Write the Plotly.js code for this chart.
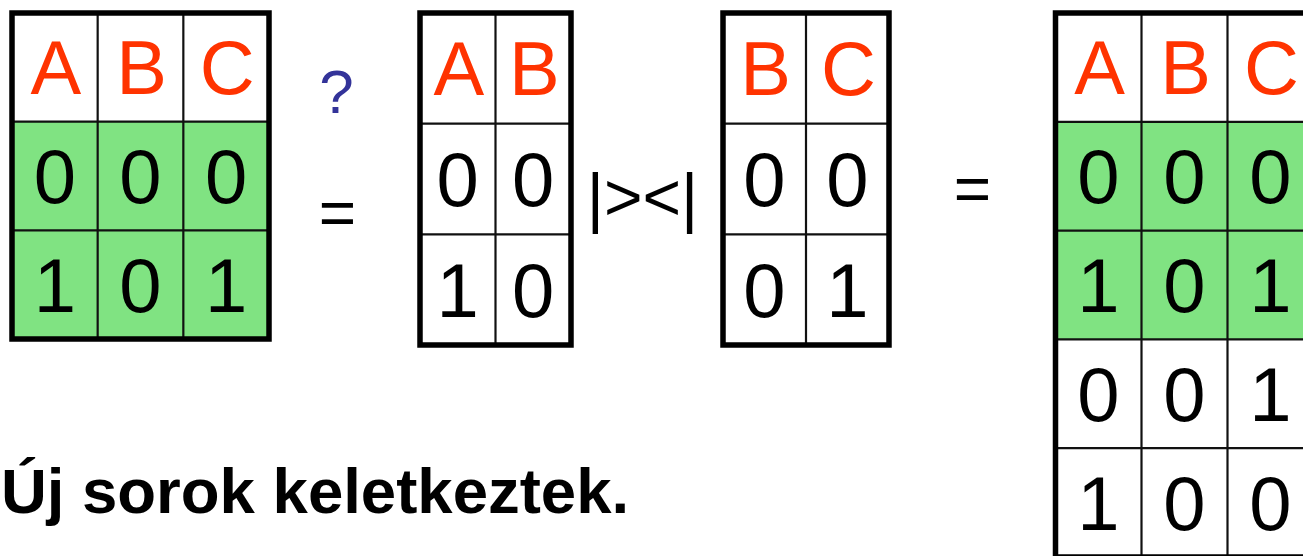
<!DOCTYPE html>
<html>
<head>
<meta charset="utf-8">
<script src="https://cdn.plot.ly/plotly-3.0.1.min.js"></script>
<style>
html,body{margin:0;padding:0;background:#fff;overflow:hidden;}
#chart{width:1303px;height:556px;}
</style>
</head>
<body>
<div id="chart"></div>
<script>
// ---- data ----
const t1Headers = ['A', 'B', 'C'];
const t1Rows = [['0', '0', '0'], ['1', '0', '1']];
const t1Highlight = [true, true];

const t2Headers = ['A', 'B'];
const t2Rows = [['0', '0'], ['1', '0']];
const t2Highlight = [false, false];

const t3Headers = ['B', 'C'];
const t3Rows = [['0', '0'], ['0', '1']];
const t3Highlight = [false, false];

const t4Headers = ['A', 'B', 'C'];
const t4Rows = [['0', '0', '0'], ['1', '0', '1'], ['0', '0', '1'], ['1', '0', '0']];
const t4Highlight = [true, true, false, false];

const operatorLabels = ['?', '=', '|><|', '='];
const captionText = 'Új sorok keletkeztek.';

// ---- layout / style ----
const FONT = 'Liberation Sans, Arial, sans-serif';
const GREEN = 'rgb(128,227,130)';
const RED = '#FF3300';
const BLUE = '#333399';
const TEXT_SHIFT = 6;

const tables = [
  {headers: t1Headers, rows: t1Rows, hl: t1Highlight, left: 12, top: 13, colW: 85.67, rowH: 108.67},
  {headers: t2Headers, rows: t2Rows, hl: t2Highlight, left: 420, top: 13, colW: 75.5, rowH: 110.67},
  {headers: t3Headers, rows: t3Rows, hl: t3Highlight, left: 723, top: 13, colW: 83, rowH: 110.67},
  {headers: t4Headers, rows: t4Rows, hl: t4Highlight, left: 1055.5, top: 13, colW: 86, rowH: 108.8}
];

const operatorPos = [
  {x: 336.5, y: 92, size: 62, color: BLUE},
  {x: 337.5, y: 214, size: 64, color: '#000'},
  {x: 642.5, y: 198, size: 66, color: '#000'},
  {x: 972.5, y: 190, size: 64, color: '#000'}
];

const traces = [];
const shapes = [];

tables.forEach(t => {
  const nC = t.headers.length, nR = t.rows.length + 1;
  const right = t.left + nC * t.colW, bottom = t.top + nR * t.rowH;
  t.rows.forEach((r, i) => {
    if (t.hl[i]) {
      shapes.push({type: 'rect', xref: 'x', yref: 'y', layer: 'below',
        x0: t.left, x1: right, y0: t.top + (i + 1) * t.rowH, y1: t.top + (i + 2) * t.rowH,
        fillcolor: GREEN, line: {width: 0}});
    }
  });
  for (let c = 1; c < nC; c++) {
    const x = t.left + c * t.colW;
    shapes.push({type: 'line', xref: 'x', yref: 'y', x0: x, x1: x, y0: t.top, y1: bottom,
      line: {color: '#111', width: 2.2}});
  }
  for (let r = 1; r < nR; r++) {
    const y = t.top + r * t.rowH;
    shapes.push({type: 'line', xref: 'x', yref: 'y', x0: t.left, x1: right, y0: y, y1: y,
      line: {color: '#111', width: 2.2}});
  }
  shapes.push({type: 'rect', xref: 'x', yref: 'y', x0: t.left, x1: right, y0: t.top, y1: bottom,
    line: {color: '#000', width: 5.5}, fillcolor: 'rgba(0,0,0,0)'});

  traces.push({type: 'scatter', mode: 'text', hoverinfo: 'skip', cliponaxis: false,
    x: t.headers.map((h, c) => t.left + (c + 0.5) * t.colW + 1),
    y: t.headers.map(() => t.top + 0.5 * t.rowH + 2 + TEXT_SHIFT),
    text: t.headers, textposition: 'middle center',
    textfont: {family: FONT, size: 76, color: RED}});
  const xs = [], ys = [], tx = [];
  t.rows.forEach((row, i) => row.forEach((v, c) => {
    xs.push(t.left + (c + 0.5) * t.colW);
    ys.push(t.top + (i + 1.5) * t.rowH + 2 + TEXT_SHIFT);
    tx.push(v);
  }));
  traces.push({type: 'scatter', mode: 'text', hoverinfo: 'skip', cliponaxis: false,
    x: xs, y: ys, text: tx, textposition: 'middle center',
    textfont: {family: FONT, size: 76, color: '#000'}});
});

operatorLabels.forEach((lab, i) => {
  const p = operatorPos[i];
  traces.push({type: 'scatter', mode: 'text', hoverinfo: 'skip', cliponaxis: false,
    x: [p.x], y: [p.y + TEXT_SHIFT - 1], text: [lab], textposition: 'middle center',
    textfont: {family: FONT, size: p.size, color: p.color}});
});

traces.push({type: 'scatter', mode: 'text', hoverinfo: 'skip', cliponaxis: false,
  x: [315], y: [492.6 + TEXT_SHIFT - 1], text: ['<b>' + captionText + '</b>'], textposition: 'middle center',
  textfont: {family: FONT, size: 63.5, color: '#000'}});

const layout = {
  width: 1303, height: 556,
  margin: {l: 0, r: 0, t: 0, b: 0, pad: 0},
  paper_bgcolor: '#fff', plot_bgcolor: '#fff',
  showlegend: false,
  xaxis: {range: [0, 1303], visible: false, fixedrange: true},
  yaxis: {range: [556, 0], visible: false, fixedrange: true},
  shapes: shapes
};

Plotly.newPlot('chart', traces, layout, {staticPlot: true, displayModeBar: false});
</script>
</body>
</html>
